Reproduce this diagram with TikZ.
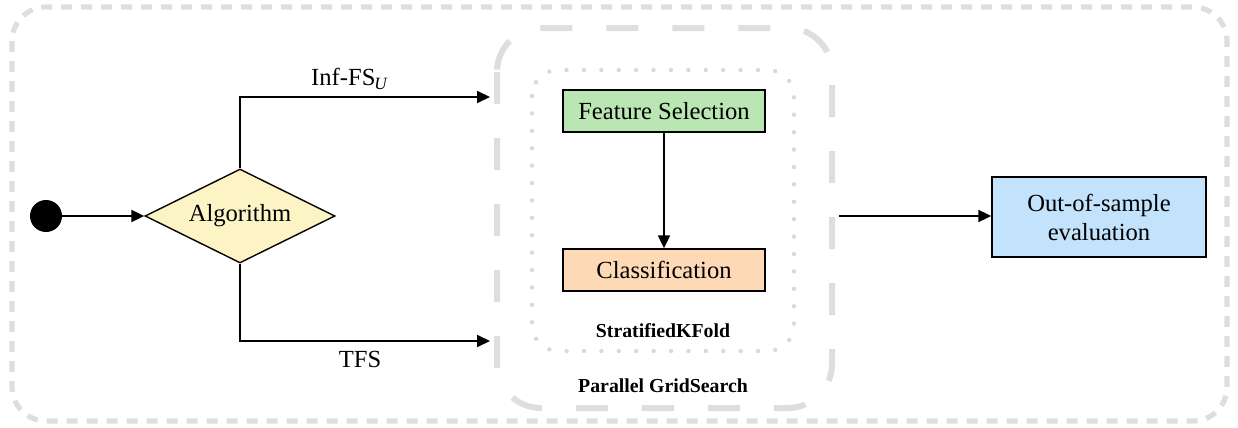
\documentclass[tikz,border=0pt]{standalone}
\usepackage{fontspec}
\setmainfont{Liberation Serif}
\usetikzlibrary{shapes.geometric,arrows.meta}
\definecolor{fsgreen}{HTML}{BAE6B3}
\definecolor{clpeach}{HTML}{FDD9B6}
\definecolor{evblue}{HTML}{C3E2FB}
\definecolor{algyellow}{HTML}{FCF4C5}
\definecolor{frame}{HTML}{DEDEDE}
\tikzset{
  boxnode/.style={draw=black, line width=0.7pt, minimum width=101pt, minimum height=21pt, inner sep=0pt, font=\fontsize{12.3}{14}\selectfont},
  flow/.style={line width=1pt, -{Triangle[length=6.5pt,width=6pt]}},
  lbl/.style={font=\fontsize{12.3}{14}\selectfont, inner sep=0pt},
  blbl/.style={font=\fontsize{9.9}{12}\selectfont\bfseries, inner sep=0pt},
}
\begin{document}
\begin{tikzpicture}[x=0.5pt,y=-0.5pt]
\useasboundingbox (0,0) rectangle (1238,428);
% outer frame
\draw[frame, line width=2.6pt, dash pattern=on 5.5pt off 4.5pt, rounded corners=17pt] (12,7) rectangle (1227,421);
% parallel gridsearch frame
\draw[frame, line width=3pt, dash pattern=on 16pt off 17pt, rounded corners=22pt] (497,28) rectangle (832,408);
% stratified kfold frame
\draw[frame!95!gray, line width=2.2pt, line cap=round, dash pattern=on 0pt off 8.7pt, rounded corners=13pt] (532,70) rectangle (794,351);

\node[circle, fill=black, minimum size=16pt, inner sep=0pt] (start) at (46,216) {};
\node[diamond, shape aspect=2.03, draw=black, line width=0.7pt, fill=algyellow, minimum width=95pt, minimum height=47pt, inner sep=0pt, font=\fontsize{12.3}{14}\selectfont] (alg) at (240,216) {Algorithm};

\coordinate (upc) at (240,97);
\coordinate (upend) at (490,97);
\coordinate (dnc) at (240,341);
\coordinate (dnend) at (490,341);

\draw[flow] (start) -- (alg.west);
\draw[flow] (alg.north) -- (upc) -- (upend);
\draw[flow] (alg.south) -- (dnc) -- (dnend);
\node[lbl] (inflbl) at (350,79) {Inf-FS\textsubscript{\kern-0.5pt\textit{U}}};
\node[lbl] (tfslbl) at (360,359) {TFS};

\node[boxnode, fill=fsgreen] (fs) at (664,111) {Feature Selection};
\node[boxnode, fill=clpeach] (cl) at (664,270) {Classification};
\draw[flow] (fs) -- (cl);

\node[blbl] (skf) at (663,331) {StratifiedKFold};
\node[blbl] (pgs) at (663,386) {Parallel GridSearch};

\node[draw=black, line width=0.7pt, fill=evblue, minimum width=107pt, minimum height=40pt, inner sep=0pt, align=center, font=\fontsize{12.3}{14.5}\selectfont] (eval) at (1099,217) {Out-of-sample\\evaluation};
\coordinate (evstart) at (839,216);
\draw[flow] (evstart) -- (evstart -| eval.west);
\end{tikzpicture}
\end{document}
